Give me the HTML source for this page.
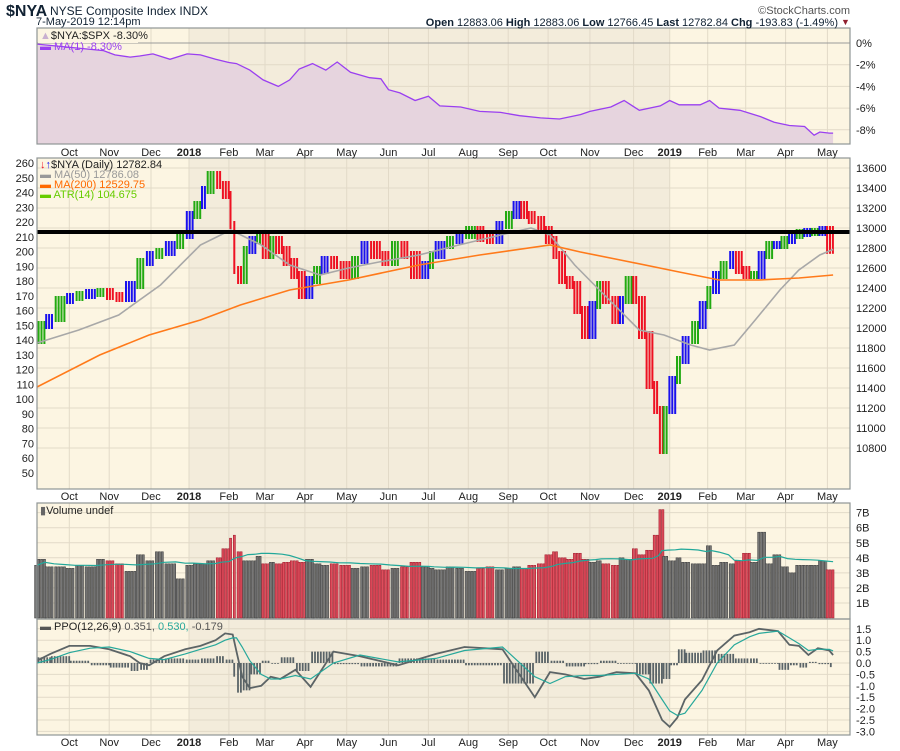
<!DOCTYPE html>
<html><head><meta charset="utf-8"><style>
html,body{margin:0;padding:0;background:#fff;overflow:hidden;}
svg{display:block;font-family:"Liberation Sans",sans-serif;}
</style></head><body>
<svg id="chart" width="900" height="751" viewBox="0 0 900 751" xmlns="http://www.w3.org/2000/svg">
<g id="bg"></g>
<g id="grid"></g>
<g id="marks"></g>
<g id="axes"></g>
<g id="labels"></g>
</svg>
<script>
// ---- data ----
const priceDays=[0,4,9,15,20,25,31,36,41,46,52,57,62,67,73,78,82,86,89,94,97,101,103,105,108,111,115,118,122,125,129,133,137,141,145,149,154,159,165,170,175,181,186,191,196,202,206,209,215,220,225,231,236,241,246,250,254,258,263,267,271,274,278,282,286,290,294,297,302,306,309,313,316,320,324,327,329,332,336,339,344,348,352,355,359,364,367,371,375,379,383,387,391,395,399,403,407,411,415,419];
const closes=[11880,12030,12100,12280,12310,12330,12350,12360,12320,12300,12430,12660,12730,12760,12830,12930,13130,13230,13380,13530,13430,13330,13030,12580,12480,12780,12880,12930,12730,12880,12780,12660,12530,12330,12480,12580,12680,12630,12530,12680,12830,12730,12660,12830,12730,12530,12630,12730,12830,12880,12930,12980,12900,12880,13030,13130,13230,13130,13080,12980,12880,12730,12480,12430,12180,11930,12230,12430,12280,12080,12280,12480,12280,11930,11430,11180,10780,11180,11480,11680,11880,12030,12230,12380,12530,12630,12730,12580,12530,12530,12730,12830,12830,12880,12930,12950,12960,12960,12980,12782];
const volumes=[3.5,3.9,3.4,3.4,3.3,3.5,3.4,3.9,3.8,3.6,3.1,4.2,3.8,4.4,3.6,2.6,3.5,3.6,3.6,3.8,4.0,4.6,5.3,5.5,4.4,3.8,3.8,4.1,3.6,3.7,3.6,3.7,3.8,3.7,3.9,3.6,3.5,3.6,3.5,3.3,3.4,3.5,3.2,3.3,3.4,3.7,3.4,3.3,3.2,3.4,3.3,3.1,3.3,3.4,3.2,3.3,3.4,3.3,3.5,3.6,4.2,4.4,4.0,3.9,4.3,3.9,3.7,3.8,3.6,3.5,4.0,3.9,4.6,4.2,4.5,5.5,7.2,4.1,3.8,4.0,3.7,3.6,3.6,4.8,3.5,3.7,3.6,3.8,4.3,3.7,5.7,3.6,4.2,3.4,3.0,3.5,3.5,3.5,3.8,3.2];
const ma200Days=[0,33,59,86,107,133,164,201,233,270,286,307,338,359,380,401,419];
const ma200=[11410,11730,11930,12080,12230,12380,12480,12630,12730,12830,12760,12680,12560,12480,12480,12500,12530];
const ma50Days=[0,22,43,65,86,102,118,133,149,164,180,201,222,244,260,270,283,296,317,330,344,354,367,378,391,401,412,419];
const ma50=[11850,11980,12130,12430,12830,12980,12830,12630,12530,12600,12660,12730,12830,12930,13000,12930,12630,12380,11980,11930,11830,11780,11830,12080,12380,12580,12730,12786];
const ratioDays=[0,35,41,49,54,61,70,79,86,94,101,105,112,119,127,133,138,145,152,158,165,175,181,185,191,199,206,212,223,233,244,254,265,275,286,291,302,309,317,328,333,338,349,354,359,370,381,388,396,404,409,412,417,419];
const ratioPct=[-0.1,-0.7,-1.1,-1.3,-1.2,-1.0,-1.5,-1.0,-1.1,-1.5,-1.8,-1.9,-2.5,-3.4,-4.0,-3.4,-2.4,-1.9,-2.5,-1.75,-2.7,-3.2,-3.3,-4.3,-4.6,-5.3,-4.9,-5.8,-5.9,-6.3,-6.4,-6.7,-6.9,-7.0,-6.6,-6.3,-5.9,-5.3,-6.2,-5.8,-5.3,-5.7,-5.7,-5.3,-6.0,-6.2,-6.8,-7.3,-7.6,-7.7,-8.5,-8.2,-8.3,-8.3];
const ppoDays=[0,7,17,28,38,49,54,59,67,78,86,94,99,103,105,108,112,118,123,128,136,144,156,170,190,210,225,245,262,270,278,288,296,305,315,322,329,333,337,341,350,358,367,375,380,390,396,401,406,411,417,419];
const ppo=[0.1,0.4,0.75,0.75,0.6,0.3,0.0,-0.1,0.3,0.6,0.75,1.0,1.3,1.25,0.5,-0.6,-1.1,-1.0,-0.6,-0.7,-0.3,-1.05,0.5,0.3,-0.1,0.4,0.7,0.6,-1.5,-0.4,-0.5,-0.7,-0.6,-0.4,-0.45,-1.2,-2.5,-2.8,-2.4,-1.6,-0.75,0.55,1.2,1.35,1.5,1.4,0.8,0.75,0.35,0.65,0.55,0.35];
const ppoSignal=[0.0,0.15,0.45,0.65,0.7,0.5,0.35,0.2,0.15,0.4,0.6,0.8,1.0,1.1,1.1,0.7,0.1,-0.5,-0.7,-0.7,-0.55,-0.7,0.0,0.35,0.05,0.2,0.55,0.7,-0.6,-0.9,-0.6,-0.55,-0.55,-0.5,-0.45,-0.7,-1.6,-2.1,-2.3,-2.2,-1.2,0.0,0.8,1.15,1.3,1.4,1.1,0.85,0.55,0.6,0.6,0.53];
const monthLabels=["Oct","Nov","Dec","2018","Feb","Mar","Apr","May","Jun","Jul","Aug","Sep","Oct","Nov","Dec","2019","Feb","Mar","Apr","May"];
const monthDays=[17,38,60,80,101,120,141,163,185,206,227,248,269,291,314,333,353,373,394,416];
const priceTicks=[13600,13400,13200,13000,12800,12600,12400,12200,12000,11800,11600,11400,11200,11000,10800];
const atrTicks=[260,250,240,230,220,210,200,190,180,170,160,150,140,130,120,110,100,90,80,70,60,50];
const pctTicks=[0,-2,-4,-6,-8];
const volTicks=[1,2,3,4,5,6,7];
const ppoTicks=[1.5,1.0,0.5,0.0,-0.5,-1.0,-1.5,-2.0,-2.5,-3.0];
const resistance=12960;

// ---- scales ----
const L=37,R=850;
const xs=d=>L+d*1.9;
const yP=p=>168+(13600-p)/10;
const yR=v=>43-v*10.85;
const yV=v=>618-v*15.05;
const yO=v=>663-v*22.8;
const yA=v=>163+(260-v)*1.476;
const NS="http://www.w3.org/2000/svg";
function mk(parent,tag,attrs,txt){const e=document.createElementNS(NS,tag);for(const k in attrs)e.setAttribute(k,attrs[k]);if(txt!==undefined)e.textContent=txt;document.getElementById(parent).appendChild(e);return e;}
const panels=[{t:28,b:144,n:'ratio-panel'},{t:158,b:489,n:'price-panel'},{t:503,b:619,n:'volume-panel'},{t:619,b:735,n:'ppo-panel'}];
const x2018=xs(monthDays[3]),x2019=xs(monthDays[15]);
panels.forEach(p=>{
  let r=mk('bg','rect',{x:L,y:p.t,width:R-L,height:p.b-p.t,fill:'#fcf5e2'});
  
  
  let b=mk('bg','rect',{x:x2018,y:p.t,width:x2019-x2018,height:p.b-p.t,fill:'#f3ecdb'});
  
  
  monthDays.forEach(d=>{mk('grid','line',{x1:xs(d),x2:xs(d),y1:p.t,y2:p.b,stroke:'#e2dac8','stroke-width':1});});
});
pctTicks.forEach(v=>mk('grid','line',{x1:L,x2:R,y1:yR(v),y2:yR(v),stroke:v===0?'#9a9a9a':'#e2dac8'}));
priceTicks.forEach(v=>mk('grid','line',{x1:L,x2:R,y1:yP(v),y2:yP(v),stroke:'#e2dac8'}));
volTicks.forEach(v=>mk('grid','line',{x1:L,x2:R,y1:yV(v),y2:yV(v),stroke:'#e2dac8'}));
ppoTicks.forEach(v=>mk('grid','line',{x1:L,x2:R,y1:yO(v),y2:yO(v),stroke:'#e2dac8'}));

function path(days,vals,fy){return days.map((d,i)=>(i?'L':'M')+xs(d).toFixed(1)+','+fy(vals[i]).toFixed(1)).join('');}
// ratio area
let rp=path(ratioDays,ratioPct,yR);
let ra=mk('marks','path',{d:rp+'L'+xs(ratioDays[ratioDays.length-1])+',144L'+L+',144Z',fill:'#e6d4de'});


let rl=mk('marks','path',{d:rp,fill:'none',stroke:'#9a3ff0','stroke-width':1.3});


// price bars (daily sticks within each sampled segment)
for(let i=1;i<closes.length;i++){
  const x0=xs(priceDays[i-1]),x1=xs(priceDays[i]);
  const hi=Math.max(closes[i],closes[i-1]),lo=Math.min(closes[i],closes[i-1]);
  const up=closes[i]>=closes[i-1];
  const c=up?(i%2?'#22aa11':'#1a10ee'):'#ee1122';
  for(let x=x0+0.6;x<x1-0.3;x+=2.9){
    const r=mk('marks','rect',{x:x,y:yP(hi)-4,width:2,height:yP(lo)-yP(hi)+8,fill:c});
    
    
  }
}
let m50=mk('marks','path',{d:path(ma50Days,ma50,yP),fill:'none',stroke:'#a8a8a8','stroke-width':1.6});


let m200=mk('marks','path',{d:path(ma200Days,ma200,yP),fill:'none',stroke:'#ff7a1a','stroke-width':1.6});


let res=mk('marks','line',{x1:L,x2:R,y1:yP(resistance),y2:yP(resistance),stroke:'#000','stroke-width':4});


// volume
for(let i=0;i<volumes.length;i++){
  const x0=i?xs(priceDays[i-1]):xs(0)-3,x1=xs(priceDays[i]);
  const down=i>0&&closes[i]<closes[i-1];
  for(let x=x0+0.6;x<x1-0.3;x+=2.9){
    const r=mk('marks','rect',{x:x,y:yV(volumes[i]),width:2.1,height:618-yV(volumes[i]),fill:down?'#df4d5c':'#777',stroke:down?'#a52233':'#444','stroke-width':0.6});
    
    
  }
}
const vma=volumes.map((v,i)=>{const s=volumes.slice(Math.max(0,i-9),i+1);return s.reduce((a,b)=>a+b,0)/s.length;});
let vm=mk('marks','path',{d:path(priceDays,vma,yV),fill:'none',stroke:'#22a89a','stroke-width':1.2});


// ppo histogram
for(let i=0;i<ppo.length;i++){
  const x0=i?xs(ppoDays[i-1]):L,x1=xs(ppoDays[i]);const h=ppo[i]-ppoSignal[i];
  for(let x=x0+0.6;x<x1-0.3;x+=2.9){
    const r=mk('marks','rect',{x:x,y:Math.min(yO(0),yO(h)),width:1.8,height:Math.max(0.8,Math.abs(yO(h)-yO(0))),fill:'#5a6468'});
    
    
  }
}
let pl=mk('marks','path',{d:path(ppoDays,ppo,yO),fill:'none',stroke:'#5c6466','stroke-width':1.8});


let sl=mk('marks','path',{d:path(ppoDays,ppoSignal,yO),fill:'none',stroke:'#27a89b','stroke-width':1.2});


// borders
panels.forEach(p=>{mk('axes','rect',{x:L,y:p.t,width:R-L,height:p.b-p.t,fill:'none',stroke:'#8f9595','stroke-width':1.2});});
// axis labels
const F='font-size:11px;fill:#222';
[152,496,742].forEach(y=>monthLabels.forEach((m,i)=>{
  const t=mk('labels','text',{x:xs(monthDays[i]),y:y+4,'text-anchor':'middle',style:F+(m.length===4?';font-weight:bold':'')},m);
  
  
}));
pctTicks.forEach(v=>mk('labels','text',{x:856,y:yR(v)+4,style:F},(v===0?'':'-')+Math.abs(v)+'%'));
priceTicks.forEach(v=>mk('labels','text',{x:856,y:yP(v)+4,style:F},v));
atrTicks.forEach(v=>mk('labels','text',{x:34,y:yA(v)+4,'text-anchor':'end',style:F},v));
volTicks.forEach(v=>mk('labels','text',{x:856,y:yV(v)+4,style:F},v+'B'));
ppoTicks.forEach(v=>mk('labels','text',{x:856,y:yO(v)+4,style:F},v.toFixed(1)));
</script>
<script>
const S=document.getElementById('chart');
S.insertAdjacentHTML('beforeend',`
<text x="6" y="16" style="font-size:16px;font-weight:bold;fill:#123">$NYA</text>
<text x="50" y="15" style="font-size:12px;fill:#123">NYSE Composite Index  INDX</text>
<text x="36" y="25" style="font-size:11px;fill:#123">7-May-2019 12:14pm</text>
<text x="850" y="14" text-anchor="end" style="font-size:11px;fill:#555">©StockCharts.com</text>
<text x="838" y="26" text-anchor="end" style="font-size:11px;fill:#123"><tspan font-weight="bold">Open</tspan> 12883.06 <tspan font-weight="bold">High</tspan> 12883.06 <tspan font-weight="bold">Low</tspan> 12766.45 <tspan font-weight="bold">Last</tspan> 12782.84 <tspan font-weight="bold">Chg</tspan> -193.83 (-1.49%)</text>
<text x="841" y="25" style="font-size:9px;fill:#902030">▼</text>
<rect x="38" y="29" width="100" height="14" fill="#fcf5e2"/>
<text x="40" y="39" style="font-size:11px;fill:#222"><tspan fill="#c9b0d0">▲</tspan>$NYA:$SPX -8.30%</text>
<text x="40" y="50" style="font-size:11px;fill:#9a3ff0">▬ MA(1) -8.30%</text>
<text x="40" y="168" style="font-size:11px;fill:#222"><tspan fill="#e12">↓</tspan><tspan fill="#22e">↑</tspan>$NYA (Daily) 12782.84</text>
<text x="40" y="178" style="font-size:11px;fill:#999">▬ MA(50) 12786.08</text>
<text x="40" y="188" style="font-size:11px;fill:#ff6a00">▬ MA(200) 12529.75</text>
<text x="40" y="198" style="font-size:11px;fill:#66cc00">▬ ATR(14) 104.675</text>
<text x="40" y="514" style="font-size:11px;fill:#222"><tspan fill="#666">▮</tspan>Volume undef</text>
<text x="40" y="630" style="font-size:11px;fill:#222"><tspan fill="#555">▬</tspan> PPO(12,26,9) <tspan fill="#555">0.351,</tspan> <tspan fill="#27a89b">0.530,</tspan> <tspan fill="#555">-0.179</tspan></text>
`);
</script>
</body></html>
